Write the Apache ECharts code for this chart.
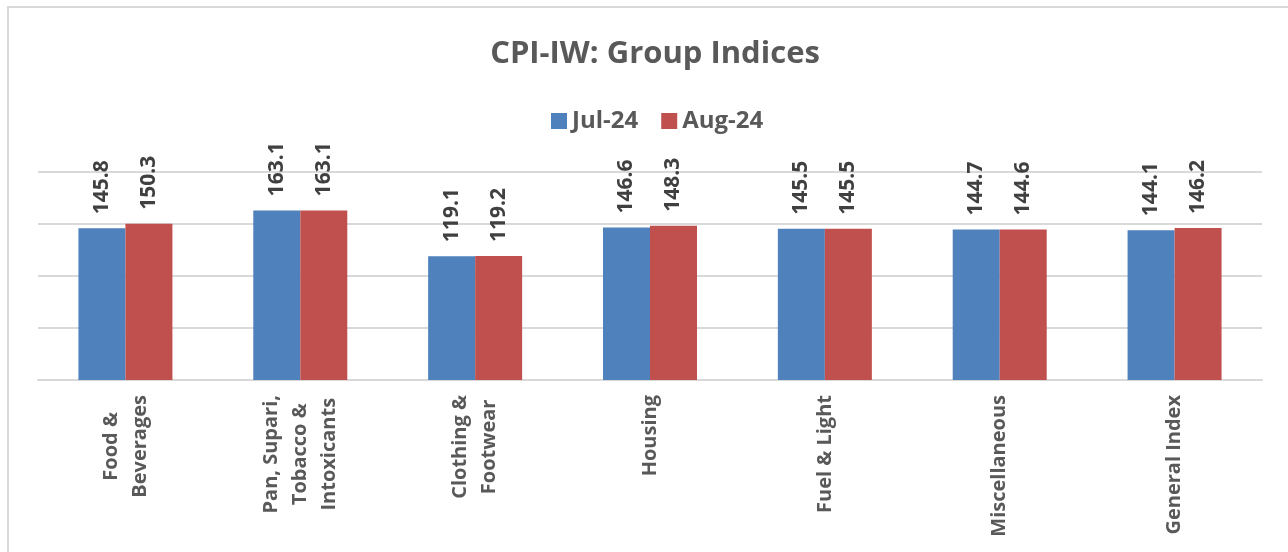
<!DOCTYPE html>
<html>
<head>
<meta charset="utf-8">
<script src="https://cdn.jsdelivr.net/npm/echarts@6/dist/echarts.min.js"></script>
<style>
html,body{margin:0;padding:0;background:#fff;}
#chart{width:1288px;height:552px;}
</style>
</head>
<body>
<div id="chart"></div>
<script>
const categories = ['Food &\nBeverages', 'Pan, Supari,\nTobacco &\nIntoxicants', 'Clothing &\nFootwear', 'Housing', 'Fuel & Light', 'Miscellaneous', 'General Index'];
const seriesNames = ['Jul-24', 'Aug-24'];
const jul24 = [145.8, 163.1, 119.1, 146.6, 145.5, 144.7, 144.1];
const aug24 = [150.3, 163.1, 119.2, 148.3, 145.5, 144.6, 146.2];
const colors = ['#4F81BD', '#C0504D'];

const FONT = '"Open Sans", "Noto Sans", sans-serif';
const chart = echarts.init(document.getElementById('chart'), null, {renderer: 'canvas'});

function valueLabel() {
  return {
    show: true,
    position: 'top',
    distance: 14,
    rotate: 90,
    align: 'left',
    verticalAlign: 'middle',
    fontFamily: FONT,
    fontWeight: 'bold',
    fontSize: 21,
    color: '#404040',
    formatter: p => p.value.toFixed(1)
  };
}

chart.setOption({
  animation: false,
  backgroundColor: '#fff',
  title: {
    text: 'CPI-IW: Group Indices',
    left: 650,
    textAlign: 'center',
    top: 34,
    textStyle: {fontFamily: FONT, fontWeight: 'bold', fontSize: 31, color: '#595959'}
  },
  legend: {
    data: seriesNames,
    top: 104,
    left: 546,
    icon: 'rect',
    itemWidth: 16,
    itemHeight: 16,
    itemGap: 23,
    textStyle: {fontFamily: FONT, fontWeight: 'bold', fontSize: 24, color: '#595959'}
  },
  graphic: [{
    type: 'rect',
    shape: {x: 8, y: 7, width: 1300, height: 560},
    style: {fill: 'none', stroke: '#D9D9D9', lineWidth: 2},
    silent: true
  }],
  grid: {left: 38, right: 26, top: 172, bottom: 172, containLabel: false},
  xAxis: {
    type: 'category',
    data: categories,
    axisLine: {lineStyle: {color: '#D9D9D9', width: 2}},
    axisTick: {show: false},
    axisLabel: {
      interval: 0,
      rotate: 90,
      margin: 15,
      fontFamily: FONT,
      fontWeight: 'bold',
      fontSize: 20,
      lineHeight: 29,
      color: '#595959',
      formatter: v => v.split('\n').map(l => '{c|' + l + '}').join('\n'),
      rich: {c: {align: 'center', fontFamily: FONT, fontWeight: 'bold', fontSize: 20, lineHeight: 29, color: '#595959'}}
    }
  },
  yAxis: {
    type: 'value',
    min: 0,
    max: 200,
    interval: 50,
    axisLabel: {show: false},
    axisLine: {show: false},
    axisTick: {show: false},
    splitLine: {lineStyle: {color: '#D9D9D9', width: 2}}
  },
  series: [
    {name: seriesNames[0], type: 'bar', data: jul24, barWidth: 47, barGap: '0%', itemStyle: {color: colors[0]}, label: valueLabel()},
    {name: seriesNames[1], type: 'bar', data: aug24, barWidth: 47, barGap: '0%', itemStyle: {color: colors[1]}, label: valueLabel()}
  ]
});
</script>
</body>
</html>
